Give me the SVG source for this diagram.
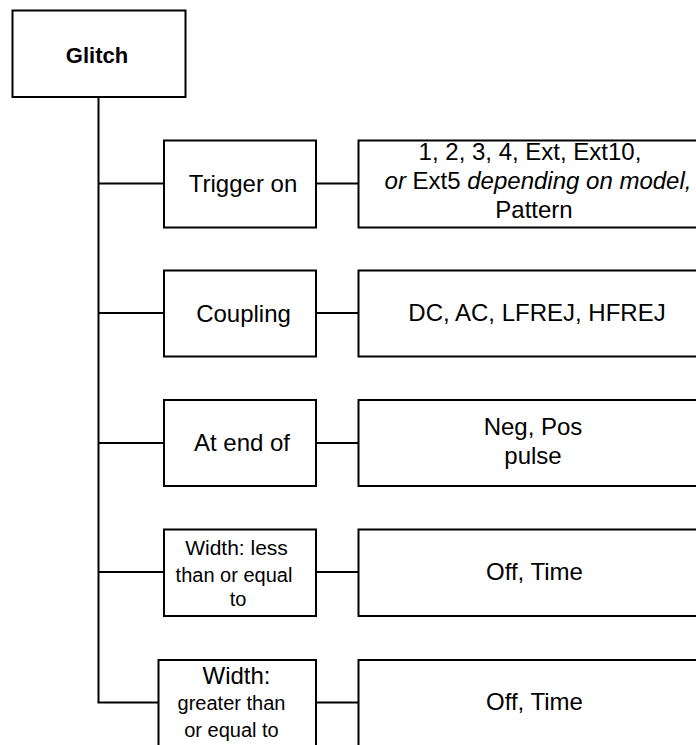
<svg xmlns="http://www.w3.org/2000/svg" width="696" height="745" viewBox="0 0 696 745">
<style>
.box{fill:#fff;stroke:#000;stroke-width:2}
.ln{stroke:#000;stroke-width:2;fill:none}
text{font-family:"Liberation Sans",Arial,sans-serif;fill:#000;text-anchor:middle}
.t{font-size:24px}
.s{font-size:20px}
.i{font-style:italic}
</style>
<rect width="696" height="745" fill="#fff"/>
<g id="connectors">
<line class="ln" x1="98.5" y1="97" x2="98.5" y2="702.5"/>
<line class="ln" x1="98.5" y1="183.5" x2="164" y2="183.5"/>
<line class="ln" x1="316" y1="183.5" x2="358" y2="183.5"/>
<line class="ln" x1="98.5" y1="313" x2="164" y2="313"/>
<line class="ln" x1="316" y1="313" x2="358" y2="313"/>
<line class="ln" x1="98.5" y1="443" x2="164" y2="443"/>
<line class="ln" x1="316" y1="443" x2="358" y2="443"/>
<line class="ln" x1="98.5" y1="572" x2="164" y2="572"/>
<line class="ln" x1="316" y1="572" x2="358" y2="572"/>
<line class="ln" x1="97.5" y1="702.5" x2="158.5" y2="702.5"/>
<line class="ln" x1="316" y1="702.5" x2="358" y2="702.5"/>
</g>
<g id="glitch">
<rect class="box" x="12.5" y="10.5" width="173" height="86.5"/>
<text x="97" y="62.5" style="font-size:22px;font-weight:bold">Glitch</text>
</g>
<g id="trigger-on">
<rect class="box" x="164" y="140.5" width="152" height="87"/>
<text class="t" x="243" y="191.5">Trigger on</text>
</g>
<g id="trigger-values">
<rect class="box" x="358.5" y="140.5" width="356" height="87"/>
<text class="t" x="530" y="159.5">1, 2, 3, 4, Ext, Ext10,</text>
<text class="t" x="538" y="188.5"><tspan class="i">or </tspan>Ext5<tspan class="i"> depending on model,</tspan></text>
<text class="t" x="534" y="217.5">Pattern</text>
</g>
<g id="coupling">
<rect class="box" x="164" y="270.5" width="152" height="86"/>
<text class="t" x="243.5" y="321.5">Coupling</text>
</g>
<g id="coupling-values">
<rect class="box" x="358.5" y="270.5" width="356" height="86"/>
<text class="t" x="537" y="321">DC, AC, LFREJ, HFREJ</text>
</g>
<g id="at-end-of">
<rect class="box" x="164" y="400" width="152" height="86"/>
<text class="t" x="242" y="451">At end of</text>
</g>
<g id="at-end-values">
<rect class="box" x="358.5" y="400" width="356" height="86"/>
<text class="t" x="533" y="435">Neg, Pos</text>
<text class="t" x="533" y="463.5">pulse</text>
</g>
<g id="width-less">
<rect class="box" x="164" y="529.5" width="152" height="86.5"/>
<text x="236.5" y="555" style="font-size:21px">Width: less</text>
<text class="s" x="234" y="581.5">than or equal</text>
<text class="s" x="238" y="606">to</text>
</g>
<g id="width-less-values">
<rect class="box" x="358.5" y="529.5" width="356" height="86.5"/>
<text class="t" x="534.5" y="580">Off, Time</text>
</g>
<g id="width-greater">
<rect class="box" x="158.5" y="660" width="157.5" height="100"/>
<text class="t" x="236.5" y="684">Width:</text>
<text class="s" x="231.5" y="710">greater than</text>
<text class="s" x="231.5" y="736.5">or equal to</text>
</g>
<g id="width-greater-values">
<rect class="box" x="358.5" y="660" width="356" height="100"/>
<text class="t" x="534.5" y="709.5">Off, Time</text>
</g>
</svg>
